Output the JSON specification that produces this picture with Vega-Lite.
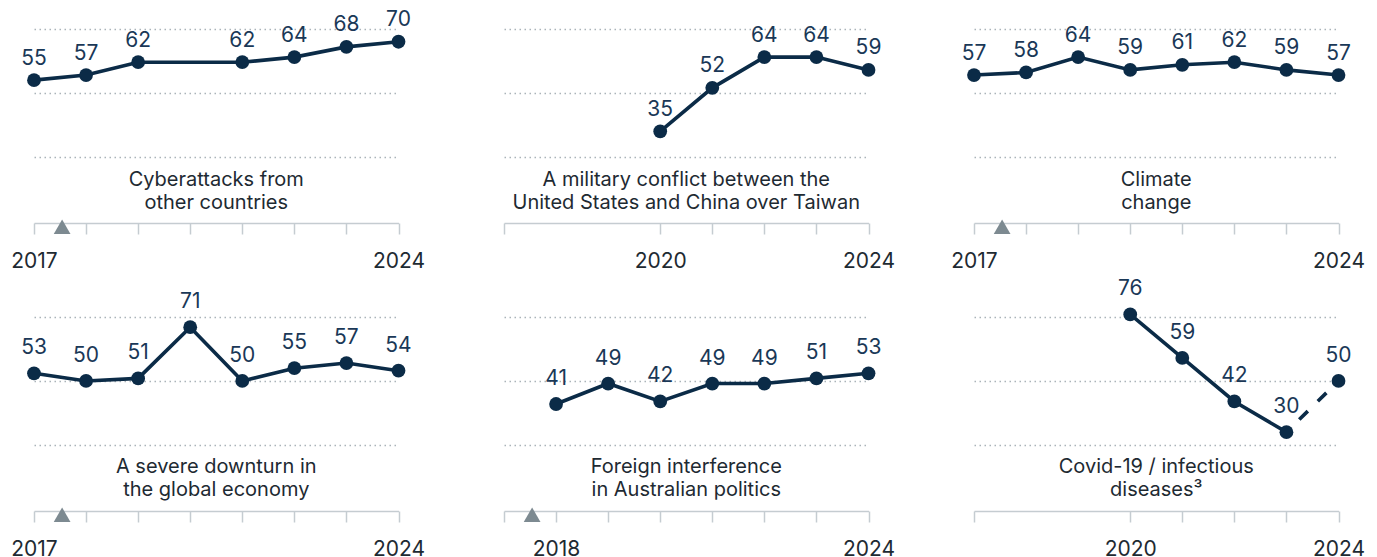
{
  "$schema": "https://vega.github.io/schema/vega-lite/v6.json",
  "padding": {"left": 10, "right": 10, "top": 0, "bottom": 0},
  "background": "white",
  "config": {
    "view": {"stroke": null},
    "font": "Inter",
    "axisX": {"grid": false, "offset": 2, "domainColor": "#c5ccd1", "domainWidth": 1.5, "tickColor": "#c5ccd1", "tickWidth": 1.5, "tickSize": 11, "labelPadding": 16, "labelFontSize": 21, "labelFont": "Inter", "labelColor": "#1e2a32", "labelOverlap": false, "labelFlush": false},
    "axisY": {"grid": true, "gridDash": [1.5, 3.5], "gridColor": "#aab3b9", "gridWidth": 1.5, "domain": false, "ticks": false, "labels": false},
    "line": {"color": "#0b2b47", "strokeWidth": 3.6},
    "point": {"filled": true, "opacity": 1, "size": 190, "color": "#0b2b47"},
    "text": {"fontSize": 21, "font": "Inter", "color": "#1a3857", "align": "center", "baseline": "alphabetic"}
  },
  "datasets": {
    "d": [
      {"panel": "cyber", "year": 2017, "value": 55},
      {"panel": "cyber", "year": 2018, "value": 57},
      {"panel": "cyber", "year": 2019, "value": 62},
      {"panel": "cyber", "year": 2021, "value": 62},
      {"panel": "cyber", "year": 2022, "value": 64},
      {"panel": "cyber", "year": 2023, "value": 68},
      {"panel": "cyber", "year": 2024, "value": 70},
      {"panel": "taiwan", "year": 2020, "value": 35},
      {"panel": "taiwan", "year": 2021, "value": 52},
      {"panel": "taiwan", "year": 2022, "value": 64},
      {"panel": "taiwan", "year": 2023, "value": 64},
      {"panel": "taiwan", "year": 2024, "value": 59},
      {"panel": "climate", "year": 2017, "value": 57},
      {"panel": "climate", "year": 2018, "value": 58},
      {"panel": "climate", "year": 2019, "value": 64},
      {"panel": "climate", "year": 2020, "value": 59},
      {"panel": "climate", "year": 2021, "value": 61},
      {"panel": "climate", "year": 2022, "value": 62},
      {"panel": "climate", "year": 2023, "value": 59},
      {"panel": "climate", "year": 2024, "value": 57},
      {"panel": "economy", "year": 2017, "value": 53},
      {"panel": "economy", "year": 2018, "value": 50},
      {"panel": "economy", "year": 2019, "value": 51},
      {"panel": "economy", "year": 2020, "value": 71},
      {"panel": "economy", "year": 2021, "value": 50},
      {"panel": "economy", "year": 2022, "value": 55},
      {"panel": "economy", "year": 2023, "value": 57},
      {"panel": "economy", "year": 2024, "value": 54},
      {"panel": "foreign", "year": 2018, "value": 41},
      {"panel": "foreign", "year": 2019, "value": 49},
      {"panel": "foreign", "year": 2020, "value": 42},
      {"panel": "foreign", "year": 2021, "value": 49},
      {"panel": "foreign", "year": 2022, "value": 49},
      {"panel": "foreign", "year": 2023, "value": 51},
      {"panel": "foreign", "year": 2024, "value": 53},
      {"panel": "covid", "year": 2020, "value": 76},
      {"panel": "covid", "year": 2021, "value": 59},
      {"panel": "covid", "year": 2022, "value": 42},
      {"panel": "covid", "year": 2023, "value": 30},
      {"panel": "covid", "year": 2024, "value": 50}
    ]
  },
  "columns": 3,
  "spacing": {"row": 67, "column": 105},
  "bounds": "flush",
  "concat": [
    {
      "width": 364.5, "height": 221,
      "layer": [
        {
          "data": {"name": "d"},
          "transform": [{"filter": "datum.panel == 'cyber'"}],
          "encoding": {
            "x": {"field": "year", "type": "quantitative", "scale": {"domain": [2017, 2024], "nice": false, "zero": false},
              "axis": {"values": [2017, 2018, 2019, 2020, 2021, 2022, 2023, 2024], "format": "d", "labelExpr": "datum.value == 2017 || datum.value == 2024 ? datum.label : ''", "title": null}},
            "y": {"field": "value", "type": "quantitative", "scale": {"domain": [0, 86.3], "nice": false}, "axis": {"values": [25, 50, 75], "title": null}}
          },
          "layer": [
            {"mark": {"type": "line"}},
            {"mark": {"type": "point"}},
            {"mark": {"type": "text", "dy": -15.5}, "encoding": {"text": {"field": "value", "type": "quantitative"}}}
          ]
        },
        {"data": {"name": "d"}, "transform": [{"filter": "datum.panel == 'cyber'"}, {"aggregate": [{"op": "count", "as": "n"}]}],
          "mark": {"type": "text", "text": ["Cyberattacks from", "other countries"], "lineHeight": 23, "fontSize": 20, "color": "#1e2a32"},
          "encoding": {"x": {"datum": 2020.5, "type": "quantitative", "scale": {"domain": [2017, 2024], "nice": false, "zero": false}}, "y": {"datum": 13.5, "type": "quantitative", "scale": {"domain": [0, 86.3], "nice": false}}}},
        {"data": {"name": "d"}, "transform": [{"filter": "datum.panel == 'cyber'"}, {"aggregate": [{"op": "count", "as": "n"}]}],
          "mark": {"type": "point", "shape": "triangle-up", "size": 280, "color": "#7d8a91", "yOffset": 5.7},
          "encoding": {"x": {"datum": 2017.54, "type": "quantitative", "scale": {"domain": [2017, 2024], "nice": false, "zero": false}}, "y": {"datum": 0, "type": "quantitative", "scale": {"domain": [0, 86.3], "nice": false}}}}
      ]
    },
    {
      "width": 364.5, "height": 221,
      "layer": [
        {
          "data": {"name": "d"},
          "transform": [{"filter": "datum.panel == 'taiwan'"}],
          "encoding": {
            "x": {"field": "year", "type": "quantitative", "scale": {"domain": [2017, 2024], "nice": false, "zero": false},
              "axis": {"values": [2017, 2020, 2021, 2022, 2023, 2024], "format": "d", "labelExpr": "datum.value == 2020 || datum.value == 2024 ? datum.label : ''", "title": null}},
            "y": {"field": "value", "type": "quantitative", "scale": {"domain": [0, 86.3], "nice": false}, "axis": {"values": [25, 50, 75], "title": null}}
          },
          "layer": [
            {"mark": {"type": "line"}},
            {"mark": {"type": "point"}},
            {"mark": {"type": "text", "dy": -15.5}, "encoding": {"text": {"field": "value", "type": "quantitative"}}}
          ]
        },
        {"data": {"name": "d"}, "transform": [{"filter": "datum.panel == 'taiwan'"}, {"aggregate": [{"op": "count", "as": "n"}]}],
          "mark": {"type": "text", "text": ["A military conflict between the", "United States and China over Taiwan"], "lineHeight": 23, "fontSize": 20, "color": "#1e2a32"},
          "encoding": {"x": {"datum": 2020.5, "type": "quantitative", "scale": {"domain": [2017, 2024], "nice": false, "zero": false}}, "y": {"datum": 13.5, "type": "quantitative", "scale": {"domain": [0, 86.3], "nice": false}}}}
      ]
    },
    {
      "width": 364.5, "height": 221,
      "layer": [
        {
          "data": {"name": "d"},
          "transform": [{"filter": "datum.panel == 'climate'"}],
          "encoding": {
            "x": {"field": "year", "type": "quantitative", "scale": {"domain": [2017, 2024], "nice": false, "zero": false},
              "axis": {"values": [2017, 2018, 2019, 2020, 2021, 2022, 2023, 2024], "format": "d", "labelExpr": "datum.value == 2017 || datum.value == 2024 ? datum.label : ''", "title": null}},
            "y": {"field": "value", "type": "quantitative", "scale": {"domain": [0, 86.3], "nice": false}, "axis": {"values": [25, 50, 75], "title": null}}
          },
          "layer": [
            {"mark": {"type": "line"}},
            {"mark": {"type": "point"}},
            {"mark": {"type": "text", "dy": -15.5}, "encoding": {"text": {"field": "value", "type": "quantitative"}}}
          ]
        },
        {"data": {"name": "d"}, "transform": [{"filter": "datum.panel == 'climate'"}, {"aggregate": [{"op": "count", "as": "n"}]}],
          "mark": {"type": "text", "text": ["Climate", "change"], "lineHeight": 23, "fontSize": 20, "color": "#1e2a32"},
          "encoding": {"x": {"datum": 2020.5, "type": "quantitative", "scale": {"domain": [2017, 2024], "nice": false, "zero": false}}, "y": {"datum": 13.5, "type": "quantitative", "scale": {"domain": [0, 86.3], "nice": false}}}},
        {"data": {"name": "d"}, "transform": [{"filter": "datum.panel == 'climate'"}, {"aggregate": [{"op": "count", "as": "n"}]}],
          "mark": {"type": "point", "shape": "triangle-up", "size": 280, "color": "#7d8a91", "yOffset": 5.7},
          "encoding": {"x": {"datum": 2017.54, "type": "quantitative", "scale": {"domain": [2017, 2024], "nice": false, "zero": false}}, "y": {"datum": 0, "type": "quantitative", "scale": {"domain": [0, 86.3], "nice": false}}}}
      ]
    },
    {
      "width": 364.5, "height": 221,
      "layer": [
        {
          "data": {"name": "d"},
          "transform": [{"filter": "datum.panel == 'economy'"}],
          "encoding": {
            "x": {"field": "year", "type": "quantitative", "scale": {"domain": [2017, 2024], "nice": false, "zero": false},
              "axis": {"values": [2017, 2018, 2019, 2020, 2021, 2022, 2023, 2024], "format": "d", "labelExpr": "datum.value == 2017 || datum.value == 2024 ? datum.label : ''", "title": null}},
            "y": {"field": "value", "type": "quantitative", "scale": {"domain": [0, 86.3], "nice": false}, "axis": {"values": [25, 50, 75], "title": null}}
          },
          "layer": [
            {"mark": {"type": "line"}},
            {"mark": {"type": "point"}},
            {"mark": {"type": "text", "dy": -19}, "encoding": {"text": {"field": "value", "type": "quantitative"}}}
          ]
        },
        {"data": {"name": "d"}, "transform": [{"filter": "datum.panel == 'economy'"}, {"aggregate": [{"op": "count", "as": "n"}]}],
          "mark": {"type": "text", "text": ["A severe downturn in", "the global economy"], "lineHeight": 23, "fontSize": 20, "color": "#1e2a32"},
          "encoding": {"x": {"datum": 2020.5, "type": "quantitative", "scale": {"domain": [2017, 2024], "nice": false, "zero": false}}, "y": {"datum": 14.2, "type": "quantitative", "scale": {"domain": [0, 86.3], "nice": false}}}},
        {"data": {"name": "d"}, "transform": [{"filter": "datum.panel == 'economy'"}, {"aggregate": [{"op": "count", "as": "n"}]}],
          "mark": {"type": "point", "shape": "triangle-up", "size": 280, "color": "#7d8a91", "yOffset": 5.7},
          "encoding": {"x": {"datum": 2017.54, "type": "quantitative", "scale": {"domain": [2017, 2024], "nice": false, "zero": false}}, "y": {"datum": 0, "type": "quantitative", "scale": {"domain": [0, 86.3], "nice": false}}}}
      ]
    },
    {
      "width": 364.5, "height": 221,
      "layer": [
        {
          "data": {"name": "d"},
          "transform": [{"filter": "datum.panel == 'foreign'"}],
          "encoding": {
            "x": {"field": "year", "type": "quantitative", "scale": {"domain": [2017, 2024], "nice": false, "zero": false},
              "axis": {"values": [2017, 2018, 2019, 2020, 2021, 2022, 2023, 2024], "format": "d", "labelExpr": "datum.value == 2018 || datum.value == 2024 ? datum.label : ''", "title": null}},
            "y": {"field": "value", "type": "quantitative", "scale": {"domain": [0, 86.3], "nice": false}, "axis": {"values": [25, 50, 75], "title": null}}
          },
          "layer": [
            {"mark": {"type": "line"}},
            {"mark": {"type": "point"}},
            {"mark": {"type": "text", "dy": -19}, "encoding": {"text": {"field": "value", "type": "quantitative"}}}
          ]
        },
        {"data": {"name": "d"}, "transform": [{"filter": "datum.panel == 'foreign'"}, {"aggregate": [{"op": "count", "as": "n"}]}],
          "mark": {"type": "text", "text": ["Foreign interference", "in Australian politics"], "lineHeight": 23, "fontSize": 20, "color": "#1e2a32"},
          "encoding": {"x": {"datum": 2020.5, "type": "quantitative", "scale": {"domain": [2017, 2024], "nice": false, "zero": false}}, "y": {"datum": 14.2, "type": "quantitative", "scale": {"domain": [0, 86.3], "nice": false}}}},
        {"data": {"name": "d"}, "transform": [{"filter": "datum.panel == 'foreign'"}, {"aggregate": [{"op": "count", "as": "n"}]}],
          "mark": {"type": "point", "shape": "triangle-up", "size": 280, "color": "#7d8a91", "yOffset": 5.7},
          "encoding": {"x": {"datum": 2017.54, "type": "quantitative", "scale": {"domain": [2017, 2024], "nice": false, "zero": false}}, "y": {"datum": 0, "type": "quantitative", "scale": {"domain": [0, 86.3], "nice": false}}}}
      ]
    },
    {
      "width": 364.5, "height": 221,
      "layer": [
        {
          "data": {"name": "d"},
          "transform": [{"filter": "datum.panel == 'covid'"}],
          "encoding": {
            "x": {"field": "year", "type": "quantitative", "scale": {"domain": [2017, 2024], "nice": false, "zero": false},
              "axis": {"values": [2017, 2020, 2021, 2022, 2023, 2024], "format": "d", "labelExpr": "datum.value == 2020 || datum.value == 2024 ? datum.label : ''", "title": null}},
            "y": {"field": "value", "type": "quantitative", "scale": {"domain": [0, 86.3], "nice": false}, "axis": {"values": [25, 50, 75], "title": null}}
          },
          "layer": [
            {"transform": [{"filter": "datum.year <= 2023"}], "mark": {"type": "line"}},
            {"transform": [{"filter": "datum.year >= 2023"}], "mark": {"type": "line", "strokeDash": [12, 14], "strokeDashOffset": 8}},
            {"mark": {"type": "point"}},
            {"mark": {"type": "text", "dy": -19}, "encoding": {"text": {"field": "value", "type": "quantitative"}}}
          ]
        },
        {"data": {"name": "d"}, "transform": [{"filter": "datum.panel == 'covid'"}, {"aggregate": [{"op": "count", "as": "n"}]}],
          "mark": {"type": "text", "text": ["Covid-19 / infectious", "diseases³"], "lineHeight": 23, "fontSize": 20, "color": "#1e2a32"},
          "encoding": {"x": {"datum": 2020.5, "type": "quantitative", "scale": {"domain": [2017, 2024], "nice": false, "zero": false}}, "y": {"datum": 14.2, "type": "quantitative", "scale": {"domain": [0, 86.3], "nice": false}}}}
      ]
    }
  ]
}
